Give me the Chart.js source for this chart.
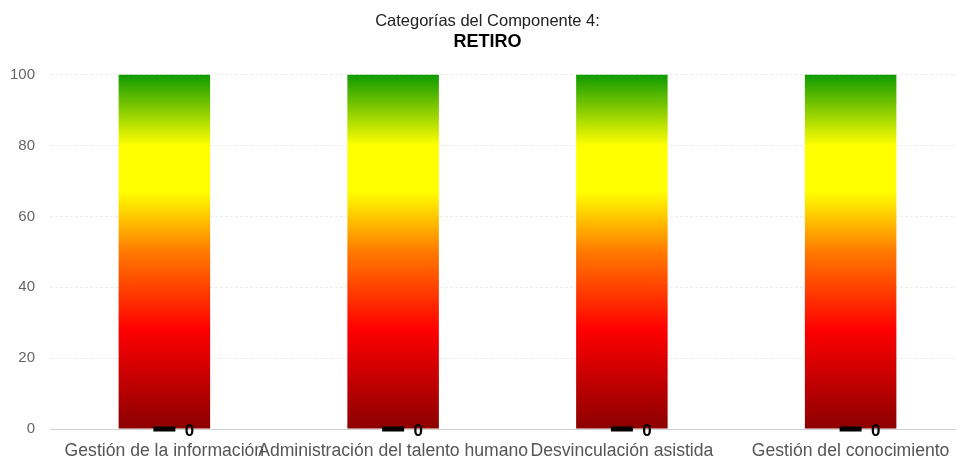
<!DOCTYPE html>
<html>
<head>
<meta charset="utf-8">
<script src="https://cdn.jsdelivr.net/npm/chart.js@4"></script>
<style>
  html, body { margin: 0; padding: 0; background: #fff; }
  #wrap { width: 956px; height: 457px; overflow: hidden; position: relative; }
  canvas { display: block; }
</style>
</head>
<body>
<div id="wrap"><canvas id="c" width="974" height="457"></canvas></div>
<script>
// Categorías y valores del componente
const categorias = [
  'Gestión de la información',
  'Administración del talento humano',
  'Desvinculación asistida',
  'Gestión del conocimiento'
];
const escala = [100, 100, 100, 100];   // barra de referencia (0–100)
const puntajes = [0, 0, 0, 0];         // puntaje obtenido por categoría
const ticksY = [0, 20, 40, 60, 80, 100];

const FONT = "'Liberation Sans', Arial, sans-serif";

// Degradado rojo → naranja → amarillo → verde según la escala vertical
function degradado(context) {
  const chart = context.chart;
  const area = chart.chartArea;
  if (!area) return '#ff0000';
  const y = chart.scales.y;
  const g = chart.ctx.createLinearGradient(0, y.getPixelForValue(0), 0, y.getPixelForValue(100));
  g.addColorStop(0.00, '#8b0000');
  g.addColorStop(0.28, '#ff0000');
  g.addColorStop(0.50, '#ff7a00');
  g.addColorStop(0.67, '#ffff00');
  g.addColorStop(0.80, '#ffff00');
  g.addColorStop(1.00, '#0f9a00');
  return g;
}

// Etiqueta con el puntaje a la derecha de cada marcador
const etiquetaPuntaje = {
  id: 'etiquetaPuntaje',
  afterDatasetsDraw(chart) {
    const meta = chart.getDatasetMeta(1);
    const ctx = chart.ctx;
    ctx.save();
    ctx.font = "bold 17px " + FONT;
    ctx.fillStyle = '#000';
    ctx.textAlign = 'center';
    ctx.textBaseline = 'middle';
    meta.data.forEach((pt, i) => {
      ctx.fillText(String(puntajes[i]), pt.x + 25, pt.y + 2);
    });
    ctx.restore();
  }
};

new Chart(document.getElementById('c'), {
  data: {
    labels: categorias,
    datasets: [
      {
        type: 'bar',
        data: escala,
        backgroundColor: degradado,
        borderWidth: 0,
        categoryPercentage: 0.8,
        barPercentage: 0.5,
        order: 1
      },
      {
        type: 'line',
        data: puntajes,
        showLine: false,
        pointStyle: 'line',
        pointRadius: 11,
        pointHoverRadius: 11,
        borderColor: '#000',
        backgroundColor: '#000',
        pointBorderWidth: 5,
        borderWidth: 5,
        clip: false,
        order: 0
      }
    ]
  },
  options: {
    responsive: false,
    animation: false,
    layout: { autoPadding: false, padding: { left: 10, right: 9, top: 0, bottom: 0 } },
    plugins: {
      legend: { display: false },
      tooltip: { enabled: false },
      title: {
        display: true,
        text: 'Categorías del Componente 4:',
        color: '#222',
        font: { family: FONT, size: 16.5, weight: 'normal', lineHeight: 1.2 },
        padding: { top: 12, bottom: 0 }
      },
      subtitle: {
        display: true,
        text: 'RETIRO',
        color: '#000',
        font: { family: FONT, size: 18, weight: 'bold', lineHeight: 1.1 },
        padding: { top: 0, bottom: 23 }
      }
    },
    scales: {
      x: {
        grid: { display: false },
        border: { display: true, color: '#d0d0d0', width: 1 },
        ticks: {
          autoSkip: false,
          maxRotation: 0,
          minRotation: 0,
          padding: 4,
          color: '#555',
          font: { family: FONT, size: 17.6 }
        },
        afterFit(scale) {
          scale.height = 28;
          scale.paddingLeft = 0;
          scale.paddingRight = 0;
        }
      },
      y: {
        min: 0,
        max: 100,
        afterBuildTicks(scale) {
          scale.ticks = ticksY.map(v => ({ value: v }));
        },
        afterFit(scale) {
          scale.width = 40;
        },
        grid: {
          drawTicks: false,
          color: (c) => c.tick && c.tick.value === 0 ? 'rgba(0,0,0,0)' : '#ececec',
          lineWidth: 1
        },
        border: { display: false, dash: [3, 2] },
        ticks: {
          padding: 15,
          color: '#666',
          font: { family: FONT, size: 15 }
        }
      }
    }
  },
  plugins: [etiquetaPuntaje]
});
</script>
</body>
</html>
